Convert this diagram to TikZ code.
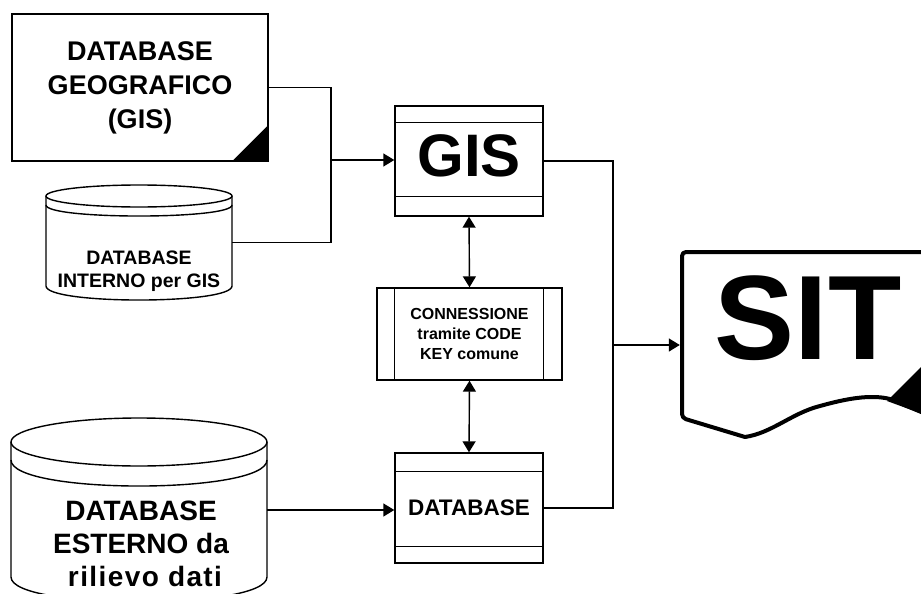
\documentclass[tikz,border=0pt]{standalone}
\usepackage{fontspec}
\setmainfont{Liberation Sans}
\usetikzlibrary{arrows.meta}
\tikzset{
  ln/.style={line width=1.4pt},
  box/.style={draw, line width=1.4pt, rectangle, inner sep=0pt},
  ghost/.style={rectangle, inner sep=0pt},
  arr/.style={ln, -{Triangle[length=11pt,width=13pt]}},
  biarr/.style={ln, {Triangle[length=11pt,width=13pt]}-{Triangle[length=11pt,width=13pt]}},
  txt/.style={align=center, inner sep=0pt},
}
\begin{document}
\begin{tikzpicture}[x=1pt,y=-1pt]
\useasboundingbox (0,0) rectangle (921,594);

% DATABASE GEOGRAFICO
\node[box, minimum width=256, minimum height=147, align=center,
      font=\fontsize{27}{34}\selectfont\bfseries] (geo) at (140,87.5) {DATABASE\\GEOGRAFICO\\(GIS)};
\fill (geo.south east) -- ++(-37,0) -- ++(37,-37) -- cycle;

% Cylinder 1
\node[ghost, minimum width=186, minimum height=115] (cyl1) at (139,242.5) {};
\draw[ln] (139,196) ellipse [x radius=93, y radius=11];
\draw[ln] (46,205) .. controls (46,219.7) and (232,219.7) .. (232,205);
\draw[ln] (46,196) -- (46,286) .. controls (46,304.7) and (232,304.7) .. (232,286) -- (232,196);
\node[txt, font=\fontsize{19.5}{23}\selectfont\bfseries] (cyl1t) at (139,271) {DATABASE\\INTERNO per GIS};

% Cylinder 2
\node[ghost, minimum width=256, minimum height=184] (cyl2) at (139,510) {};
\draw[ln] (139,442) ellipse [x radius=128, y radius=24];
\draw[ln] (11,460) .. controls (11,494.7) and (267,494.7) .. (267,460);
\draw[ln] (11,442) -- (11,577) .. controls (11,610.3) and (267,610.3) .. (267,577) -- (267,442);
\node[txt, font=\fontsize{28}{33}\selectfont\bfseries] (cyl2t) at (141,544)
  {DATABASE\\ESTERNO da\\{\addfontfeature{LetterSpace=5}\hspace*{8pt}rilievo dati}};

% GIS box
\node[box, minimum width=148, minimum height=110] (gis) at (469,161) {};
\draw[ln] ([yshift=-17pt]gis.north west) -- ([yshift=-17pt]gis.north east);
\draw[ln] ([yshift=20pt]gis.south west) -- ([yshift=20pt]gis.south east);
\node[txt, font=\fontsize{60}{60}\selectfont\bfseries] (gist) at (469,156) {GIS};

% CONNESSIONE
\node[box, minimum width=185, minimum height=92, align=center,
      font=\fontsize{16}{20}\selectfont\bfseries] (conn) at (469.5,334) {CONNESSIONE\\tramite CODE\\KEY comune};
\draw[ln] ([xshift=18pt]conn.north west) -- ([xshift=18pt]conn.south west);
\draw[ln] ([xshift=-19pt]conn.north east) -- ([xshift=-19pt]conn.south east);

% DATABASE box
\node[box, minimum width=148, minimum height=110,
      font=\fontsize{22.5}{27}\selectfont\bfseries] (db) at (469,508) {DATABASE};
\draw[ln] ([yshift=-19pt]db.north west) -- ([yshift=-19pt]db.north east);
\draw[ln] ([yshift=17pt]db.south west) -- ([yshift=17pt]db.south east);

% SIT document
\node[ghost, minimum width=278, minimum height=168] (sit) at (821,336) {};
\draw[line width=4pt, line join=round]
  (950,252) [rounded corners=4pt] -- (682,252) -- (682,418) [sharp corners]
  -- (745,437) .. controls (772,433) and (792,413) .. (820,406)
  .. controls (845,399) and (870,394) .. (890,399) -- (950,424);
\fill (887,401) -- (950,338) -- (950,424) -- cycle;
\node[txt, font=\fontsize{120}{120}\selectfont\bfseries] (sitt) at (808,318) {SIT};

% connectors
\coordinate (j1) at (331,160);
\draw[ln] (geo.east) -| (j1);
\draw[ln] (cyl1.east) -| (j1);
\draw[arr] (j1) -- (gis.west |- j1);
\coordinate (j2) at (613,345);
\draw[ln] (gis.east) -| (j2);
\draw[ln] (db.east) -| (j2);
\draw[arr, shorten >=2pt] (j2) -- (sit.west |- j2);
\draw[biarr] (gis.south) -- (conn.north);
\draw[biarr] (conn.south) -- (db.north);
\draw[arr] (cyl2.east) -- (db.west |- cyl2.east);
\end{tikzpicture}
\end{document}
